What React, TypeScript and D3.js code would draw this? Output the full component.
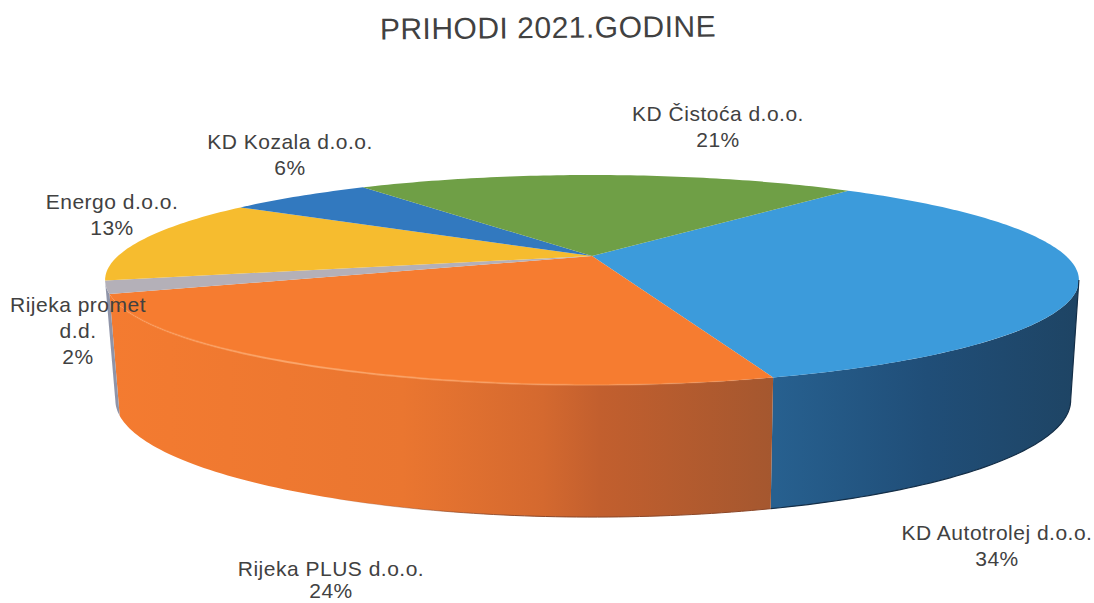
import React from 'react';
import * as d3 from 'd3';

const names = ['KD Autotrolej d.o.o.', 'Rijeka PLUS d.o.o.', 'Rijeka promet d.d.', 'Energo d.o.o.', 'KD Kozala d.o.o.', 'KD Čistoća d.o.o.'];
const values = [34.2, 24.1, 2.0, 13.0, 6.0, 20.7];
const topColors = ['#3C9BDB', '#F67C30', '#B4B0B8', '#F6BC2F', '#3279BF', '#6F9F46'];
// label lines, split the way they are on the chart
const labelLines = [['KD Autotrolej d.o.o.'], ['Rijeka PLUS d.o.o.'], ['Rijeka promet', 'd.d.'], ['Energo d.o.o.'], ['KD Kozala d.o.o.'], ['KD Čistoća d.o.o.']];
const labelPos = [[997, 540], [331, 576], [78, 312], [112, 209], [290, 149], [718, 121]];

const width = 1094;
const height = 603;
const startDeg = 39.5;
const persp = -0.2287; // tilt of the disc, near edge comes out bigger

// the wall is only seen between the two silhouette angles
const wallFrom = Math.acos(persp);
const wallTo = 2 * Math.PI - wallFrom;

// projects an angle of the pie on a rim (top or bottom of the cylinder)
const rim = (x0: number, y0: number, a: number, b: number) => (angle: number): [number, number] => {
  const u = Math.sin(angle);
  const v = -Math.cos(angle);
  const w = 1 + persp * v;
  return [x0 + (a * u) / w, y0 + (b * v) / w];
};
const topRim = rim(592, 256, 474, 99.5);
const bottomRim = rim(593, 373.3, 465, 110.9);

const line = d3.line();
const sample = (a0: number, a1: number) => {
  const n = Math.max(4, Math.ceil(((a1 - a0) * 180) / Math.PI));
  return d3.range(n + 1).map((i) => a0 + ((a1 - a0) * i) / n);
};

const App = () => {
  const arcs = d3.pie<number>().sort(null).startAngle((startDeg * Math.PI) / 180).endAngle(((startDeg + 360) * Math.PI) / 180)(values);
  const apex: [number, number] = [592, 256];

  const walls = arcs.map((d, i) => {
    const a0 = Math.max(d.startAngle, wallFrom);
    const a1 = Math.min(d.endAngle, wallTo);
    if (a1 <= a0) return null;
    const angles = sample(a0, a1);
    const pts = [...angles.map(topRim), ...angles.slice().reverse().map(bottomRim)];
    return <path key={i} d={line(pts) + 'Z'} fill={i === 0 ? 'url(#wallBlue)' : i === 1 ? 'url(#wallOrange)' : '#8F94A8'} />;
  });

  const tops = arcs.map((d, i) => {
    const pts = [apex, ...sample(d.startAngle, d.endAngle).map(topRim)];
    return <path key={i} d={line(pts) + 'Z'} fill={topColors[i]} />;
  });

  // dark edge round the blue wall
  const blueEdge = [topRim(wallFrom), ...sample(wallFrom, arcs[0].endAngle).map(bottomRim)];
  const orangeEdge = sample(arcs[1].startAngle, arcs[1].startAngle + 0.8).map(bottomRim);

  return (
    <svg width={width} height={height} style={{ position: 'absolute', left: 0, top: 0, background: '#fff' }} fontFamily="'Liberation Sans', Arial, sans-serif">
      <defs>
        <linearGradient id="wallOrange" gradientUnits="userSpaceOnUse" x1={110} x2={776} y1={0} y2={0}>
          <stop offset="0" stopColor="#F47B30" />
          <stop offset="0.44" stopColor="#EA7630" />
          <stop offset="0.65" stopColor="#D4692F" />
          <stop offset="0.735" stopColor="#C25F2E" />
          <stop offset="1" stopColor="#A4572F" />
        </linearGradient>
        <linearGradient id="wallBlue" gradientUnits="userSpaceOnUse" x1={776} x2={1078} y1={0} y2={0}>
          <stop offset="0" stopColor="#27608F" />
          <stop offset="0.5" stopColor="#204E78" />
          <stop offset="1" stopColor="#1E4464" />
        </linearGradient>
        <linearGradient id="rimGlow" gradientUnits="userSpaceOnUse" x1={120} x2={776} y1={0} y2={0}>
          <stop offset="0" stopColor="#FBA76C" stopOpacity={0.2} />
          <stop offset="0.25" stopColor="#FBA76C" stopOpacity={0.9} />
          <stop offset="0.6" stopColor="#FBA76C" stopOpacity={0.5} />
          <stop offset="1" stopColor="#FBA76C" stopOpacity={0} />
        </linearGradient>
        <linearGradient id="edgeFade" gradientUnits="userSpaceOnUse" x1={320} x2={520} y1={0} y2={0}>
          <stop offset="0" stopColor="#8A4526" stopOpacity={0} />
          <stop offset="1" stopColor="#8A4526" stopOpacity={1} />
        </linearGradient>
      </defs>
      {walls}
      {tops}
      <path d={line(sample(arcs[1].startAngle, arcs[1].endAngle - 0.15).map(topRim)) as string} fill="none" stroke="url(#rimGlow)" strokeWidth={2} />
      <path d={line(blueEdge) as string} fill="none" stroke="#142E47" strokeWidth={1.2} />
      <path d={line(orangeEdge) as string} fill="none" stroke="url(#edgeFade)" strokeWidth={1} />
      <text x={548} y={38} textAnchor="middle" fontSize={30} letterSpacing={0.5} fill="#414141" transform="rotate(-0.5 548 30)">PRIHODI 2021.GODINE</text>
      {names.map((name, i) => (
        <text key={name} x={labelPos[i][0]} y={labelPos[i][1]} textAnchor="middle" fontSize={21} letterSpacing={0.5} fill="#414141">
          {labelLines[i].map((l, j) => (
            <tspan key={j} x={labelPos[i][0]} dy={j === 0 ? 0 : 26}>{l}</tspan>
          ))}
          <tspan x={labelPos[i][0]} dy={i === 1 ? 22 : 26}>{d3.format('.0f')(values[i])}%</tspan>
        </text>
      ))}
    </svg>
  );
};

export default App;
